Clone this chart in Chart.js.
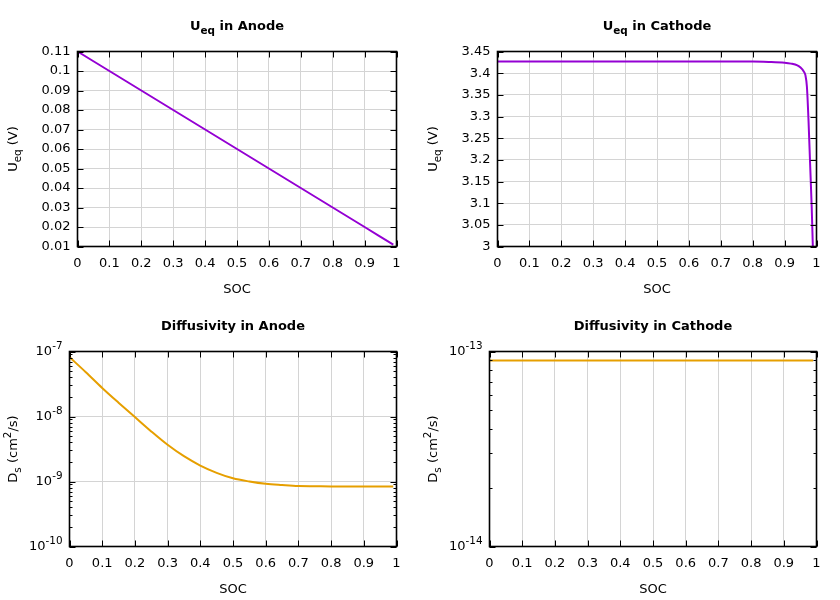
<!DOCTYPE html>
<html><head><meta charset="utf-8">
<script src="https://cdn.jsdelivr.net/npm/chart.js@4/dist/chart.umd.min.js"></script>
<style>
html,body{margin:0;padding:0;background:#fff;width:840px;height:600px;overflow:hidden}
canvas{position:absolute}
</style></head><body>
<canvas id="c1" width="420" height="300" style="left:0;top:0"></canvas>
<canvas id="c2" width="420" height="300" style="left:420px;top:0"></canvas>
<canvas id="c3" width="420" height="300" style="left:0;top:300px"></canvas>
<canvas id="c4" width="420" height="300" style="left:420px;top:300px"></canvas>
<script>
// ---- data ----
const socTicks = [0, 0.1, 0.2, 0.3, 0.4, 0.5, 0.6, 0.7, 0.8, 0.9, 1];

const anodeUeqSoc = [0, 0.1, 0.2, 0.3, 0.4, 0.5, 0.6, 0.7, 0.8, 0.9, 0.99];
const anodeUeq    = [0.11, 0.10, 0.09, 0.08, 0.07, 0.06, 0.05, 0.04, 0.03, 0.02, 0.011];
const anodeUeqTicks = [0.01, 0.02, 0.03, 0.04, 0.05, 0.06, 0.07, 0.08, 0.09, 0.1, 0.11];

const cathodeUeqSoc = [0, 0.1, 0.2, 0.3, 0.4, 0.5, 0.6, 0.7, 0.8, 0.85, 0.9, 0.92, 0.94, 0.95, 0.96, 0.965, 0.97, 0.975, 0.98, 0.985, 0.99];
const cathodeUeq    = [3.427, 3.427, 3.427, 3.427, 3.427, 3.427, 3.427, 3.427, 3.427, 3.426, 3.424, 3.422, 3.418, 3.413, 3.404, 3.396, 3.368, 3.29, 3.19, 3.09, 2.96];
const cathodeUeqTicks = [3, 3.05, 3.1, 3.15, 3.2, 3.25, 3.3, 3.35, 3.4, 3.45];

const anodeDsSoc = [0, 0.05, 0.1, 0.15, 0.2, 0.25, 0.3, 0.35, 0.4, 0.45, 0.5, 0.55, 0.6, 0.65, 0.7, 0.75, 0.8, 0.85, 0.9, 0.95, 0.99];
const anodeDs    = [8.2e-8, 4.8e-8, 2.75e-8, 1.63e-8, 9.8e-9, 5.9e-9, 3.67e-9, 2.45e-9, 1.76e-9, 1.36e-9, 1.12e-9, 1.0e-9, 9.2e-10, 8.8e-10, 8.5e-10, 8.45e-10, 8.4e-10, 8.4e-10, 8.4e-10, 8.4e-10, 8.4e-10];
const anodeDsTicks = [1e-10, 1e-9, 1e-8, 1e-7];

const cathodeDsSoc = [0, 0.5, 0.99];
const cathodeDs    = [9e-14, 9e-14, 9e-14];
const cathodeDsTicks = [1e-14, 1e-13];

// ---- helpers ----
const FONT = '"DejaVu Sans", sans-serif';
const FS = 13;
const PURPLE = '#9400d3', ORANGE = '#e69f00', GRID = '#d4d4d4';

function fontStr(size, bold){ return (bold ? 'bold ' : '') + size + 'px ' + FONT; }
function partSize(p, size){ return p.s ? size * 0.8 : size; }
function drawRich(ctx, parts, x, y, size, bold, align){
  let w = 0;
  parts.forEach(p => { ctx.font = fontStr(partSize(p,size), bold); w += ctx.measureText(p.t).width; });
  let cx = align === 'center' ? x - w/2 : x - w;
  ctx.textBaseline = 'middle'; ctx.textAlign = 'left'; ctx.fillStyle = '#000';
  parts.forEach(p => {
    ctx.font = fontStr(partSize(p,size), bold);
    const dy = p.s === 'sub' ? size*0.3 : p.s === 'sup' ? -size*0.42 : 0;
    ctx.fillText(p.t, cx, y + dy);
    cx += ctx.measureText(p.t).width;
  });
}
function fmt(v){ return String(parseFloat(Number(v).toFixed(4))); }

const deco = {
  id: 'deco',
  afterDraw(chart, args, o){
    const ctx = chart.ctx, a = chart.chartArea, xs = chart.scales.x, ys = chart.scales.y;
    ctx.save();
    ctx.strokeStyle = '#000'; ctx.lineWidth = 1;
    ctx.beginPath();
    xs.ticks.forEach(t => {
      const px = Math.round(xs.getPixelForValue(t.value)) + 0.5;
      ctx.moveTo(px, a.bottom); ctx.lineTo(px, a.bottom - 6);
      ctx.moveTo(px, a.top); ctx.lineTo(px, a.top + 6);
    });
    ys.ticks.forEach(t => {
      const py = Math.round(ys.getPixelForValue(t.value)) + 0.5;
      ctx.moveTo(a.left, py); ctx.lineTo(a.left + 6, py);
      ctx.moveTo(a.right, py); ctx.lineTo(a.right - 6, py);
    });
    if (o.log) {
      const lo = Math.round(Math.log10(ys.min)), hi = Math.round(Math.log10(ys.max));
      for (let e = lo; e < hi; e++) {
        for (let k = 2; k <= 9; k++) {
          const py = Math.round(ys.getPixelForValue(k * Math.pow(10, e))) + 0.5;
          ctx.moveTo(a.left, py); ctx.lineTo(a.left + 3, py);
          ctx.moveTo(a.right, py); ctx.lineTo(a.right - 3, py);
        }
      }
    }
    ctx.stroke();
    ctx.lineWidth = 1.6;
    ctx.strokeRect(a.left, a.top, a.right - a.left, a.bottom - a.top);
    // title
    drawRich(ctx, o.title, (a.left + a.right)/2, 27, FS, true, 'center');
    // log tick labels
    if (o.log) {
      ys.ticks.forEach(t => {
        const py = ys.getPixelForValue(t.value);
        const e = Math.round(Math.log10(t.value));
        drawRich(ctx, [{t:'10'},{t:String(e), s:'sup'}], a.left - 7, py, FS, false, 'right');
      });
    }
    // y title
    ctx.save();
    ctx.translate(14, (a.top + a.bottom)/2);
    ctx.rotate(-Math.PI/2);
    drawRich(ctx, o.ytitle, 0, 0, FS, false, 'center');
    ctx.restore();
    ctx.restore();
  }
};

function makeChart(id, soc, vals, color, yType, yTicks, yMin, yMax, left, title, ytitle){
  const isLog = yType === 'logarithmic';
  return new Chart(document.getElementById(id), {
    type: 'line',
    data: { datasets: [{
      data: soc.map((s, i) => ({x: s, y: vals[i]})),
      borderColor: color, borderWidth: 2, pointRadius: 0, fill: false,
      cubicInterpolationMode: 'monotone'
    }]},
    plugins: [deco],
    options: {
      responsive: false, animation: false, devicePixelRatio: 1,
      layout: { padding: { left: 0, right: 23.5, top: 51.5, bottom: 0 } },
      plugins: {
        legend: { display: false }, title: { display: false }, tooltip: { enabled: false },
        deco: { title, ytitle, log: isLog }
      },
      scales: {
        x: {
          type: 'linear', min: 0, max: 1,
          afterBuildTicks: s => { s.ticks = socTicks.map(v => ({value: v})); },
          afterFit: s => { s.height = 53.5; },
          grid: { color: GRID, lineWidth: 1, drawTicks: false },
          border: { display: false },
          ticks: { color: '#000', font: { family: FONT, size: FS }, padding: 9, maxRotation: 0, autoSkip: false, callback: v => fmt(v) },
          title: { display: true, text: 'SOC', color: '#000', font: { family: FONT, size: FS }, padding: { top: 0, bottom: 3 } }
        },
        y: {
          type: yType, min: yMin, max: yMax,
          afterBuildTicks: s => { s.ticks = yTicks.map(v => ({value: v})); },
          afterFit: s => { s.width = left; },
          grid: { color: GRID, lineWidth: 1, drawTicks: false },
          border: { display: false },
          ticks: { display: !isLog, color: '#000', font: { family: FONT, size: FS }, padding: 7, autoSkip: false, callback: v => fmt(v) }
        }
      }
    }
  });
}

makeChart('c1', anodeUeqSoc, anodeUeq, PURPLE, 'linear', anodeUeqTicks, 0.01, 0.11, 77.5,
  [{t:'U'},{t:'eq', s:'sub'},{t:' in Anode'}], [{t:'U'},{t:'eq', s:'sub'},{t:' (V)'}]);
makeChart('c2', cathodeUeqSoc, cathodeUeq, PURPLE, 'linear', cathodeUeqTicks, 3, 3.45, 77.5,
  [{t:'U'},{t:'eq', s:'sub'},{t:' in Cathode'}], [{t:'U'},{t:'eq', s:'sub'},{t:' (V)'}]);
makeChart('c3', anodeDsSoc, anodeDs, ORANGE, 'logarithmic', anodeDsTicks, 1e-10, 1e-7, 69.5,
  [{t:'Diffusivity in Anode'}], [{t:'D'},{t:'s', s:'sub'},{t:' (cm'},{t:'2', s:'sup'},{t:'/s)'}]);
makeChart('c4', cathodeDsSoc, cathodeDs, ORANGE, 'logarithmic', cathodeDsTicks, 1e-14, 1e-13, 69.5,
  [{t:'Diffusivity in Cathode'}], [{t:'D'},{t:'s', s:'sub'},{t:' (cm'},{t:'2', s:'sup'},{t:'/s)'}]);
</script>
</body></html>
